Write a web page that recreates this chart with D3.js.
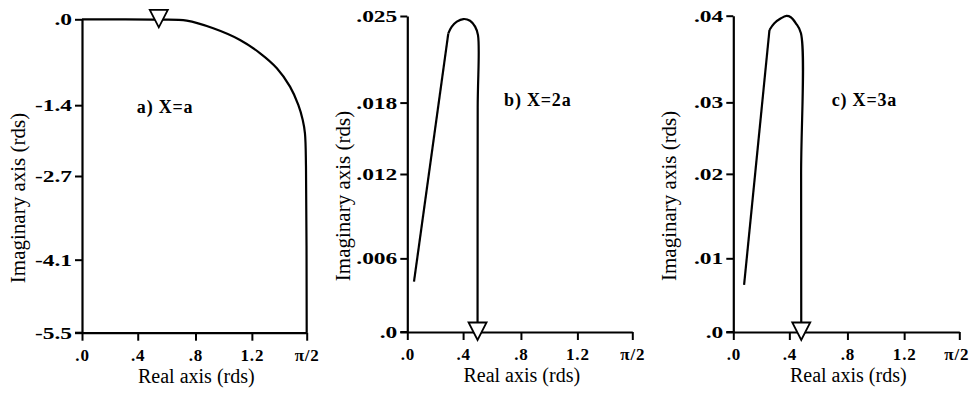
<!DOCTYPE html>
<html>
<head>
<meta charset="utf-8">
<script src="https://cdn.jsdelivr.net/npm/d3@7"></script>
<style>
  html, body { margin: 0; padding: 0; background: #fff; }
  svg { display: block; }
</style>
</head>
<body>
<svg id="chart" width="971" height="396"></svg>
<script>
// ---------------- DATA ----------------
const xTickValues = [0, 0.4, 0.8, 1.2, Math.PI / 2];
const xTickLabels = [".0", ".4", ".8", "1.2", "π/2"];

// panel a) X=a
const yTicksA = [0, -1.375, -2.75, -4.125, -5.5];        // top -> bottom
const yLabelsA = [".0", "-1.4", "-2.7", "-4.1", "-5.5"];
const realA = [0, 0.25, 0.546, 0.739, 0.926, 1.116, 1.256, 1.369, 1.458, 1.514, 1.544, 1.559, 1.566, 1.5708];
const imagA = [0, 0, -0.005, -0.022, -0.144, -0.331, -0.544, -0.783, -1.078, -1.370, -1.662, -1.922, -2.574, -5.5];
const markerA = [0.546, 0];

// panel b) X=2a
const yTicksB = [0.025, 0.01875, 0.0125, 0.00625, 0];
const yLabelsB = [".025", ".018", ".012", ".006", ".0"];
const realB = [0.048, 0.294, 0.319, 0.355, 0.402, 0.448, 0.483, 0.503, 0.501, 0.5];
const imagB = [0.00427, 0.02375, 0.02423, 0.02459, 0.02478, 0.02466, 0.02423, 0.02362, 0.0183, 0];
const markerB = [0.5, 0];

// panel c) X=3a
const yTicksC = [0.04, 0.03, 0.02, 0.01, 0];
const yLabelsC = [".04", ".03", ".02", ".01", ".0"];
const realC = [0.077, 0.258, 0.293, 0.340, 0.379, 0.410, 0.445, 0.480, 0.481, 0.482];
const imagC = [0.00638, 0.03835, 0.03912, 0.0397, 0.03997, 0.03982, 0.03912, 0.03797, 0.02, 0];
const markerC = [0.482, 0];

const panelTitles = ["a) X=a", "b) X=2a", "c) X=3a"];
const xTitle = "Real axis (rds)";
const yTitle = "Imaginary axis (rds)";

// ---------------- LAYOUT ----------------
const frames = [
  { left: 82,    right: 306.7, top: 19.3, bottom: 332.7, note: [0.37, 0.30], straight: 0 },
  { left: 407.3, right: 632.3, top: 16,   bottom: 332,   note: [0.58, 0.285], straight: 1 },
  { left: 733.3, right: 959.3, top: 15.7, bottom: 332,   note: [0.58, 0.285], straight: 1 }
];
const xStops = [0, 0.248, 0.505, 0.756, 1];
const yStops = [0, 0.274, 0.5, 0.767, 1];
const Y_LABEL_STRETCH = 1.38;

const panels = [
  { yTicks: yTicksA, yLabels: yLabelsA, re: realA, im: imagA, marker: markerA },
  { yTicks: yTicksB, yLabels: yLabelsB, re: realB, im: imagB, marker: markerB },
  { yTicks: yTicksC, yLabels: yLabelsC, re: realC, im: imagC, marker: markerC }
];

const FONT = "'Liberation Serif', 'Times New Roman', serif";
const svg = d3.select("#chart").attr("font-family", FONT);

panels.forEach((p, i) => {
  const f = frames[i];
  const x = d3.scaleLinear()
    .domain(xTickValues)
    .range(xStops.map(s => f.left + s * (f.right - f.left)));
  const y = d3.scaleLinear()
    .domain(p.yTicks)
    .range(yStops.map(s => f.top + s * (f.bottom - f.top)));

  const g = svg.append("g");

  const xAxis = d3.axisBottom(x)
    .tickValues(xTickValues)
    .tickFormat((d, k) => xTickLabels[k])
    .tickSize(8).tickSizeOuter(0).tickPadding(8);
  const gx = g.append("g").attr("transform", `translate(0,${f.bottom})`).call(xAxis);

  const yAxis = d3.axisLeft(y)
    .tickValues(p.yTicks)
    .tickFormat((d, k) => p.yLabels[k])
    .tickSize(7).tickSizeOuter(0).tickPadding(3);
  const gy = g.append("g").attr("transform", `translate(${f.left},0)`).call(yAxis);

  [gx, gy].forEach(ax => {
    ax.attr("font-family", FONT);
    ax.select(".domain").attr("stroke", "#000").attr("stroke-width", 2.2);
    ax.selectAll(".tick line").attr("stroke", "#000").attr("stroke-width", 2);
    ax.selectAll(".tick text")
      .attr("font-size", 17)
      .attr("font-weight", "bold")
      .attr("fill", "#000");
  });
  gx.selectAll(".tick text").attr("letter-spacing", 0.8);
  // keep the last label inside the picture
  if (i === 2) gx.selectAll(".tick text").filter((d, k) => k === xTickValues.length - 1).attr("dx", -3);
  // y tick labels are printed wide in the original
  gy.selectAll(".tick text")
    .attr("x", -10 / Y_LABEL_STRETCH)
    .attr("transform", `scale(${Y_LABEL_STRETCH},1)`);

  g.append("line")
    .attr("x1", f.left - 7).attr("x2", f.left)
    .attr("y1", f.bottom).attr("y2", f.bottom)
    .attr("stroke", "#000").attr("stroke-width", 2);

  g.append("text")
    .attr("x", (f.left + f.right) / 2 + 2)
    .attr("y", f.bottom + 50)
    .attr("text-anchor", "middle")
    .attr("font-size", 20)
    .text(xTitle);
  g.append("text")
    .attr("transform", `translate(${f.left - 57},${(f.top + f.bottom) / 2 + 22}) rotate(-90)`)
    .attr("text-anchor", "middle")
    .attr("font-size", 21)
    .text(yTitle);

  const pts = p.re.map((r, k) => [r, p.im[k]]);
  if (f.straight) {
    g.append("path")
      .datum(pts.slice(0, 2))
      .attr("fill", "none").attr("stroke", "#000").attr("stroke-width", 2.2)
      .attr("d", d3.line().x(d => x(d[0])).y(d => y(d[1])));
  }
  g.append("path")
    .datum(f.straight ? pts.slice(1) : pts)
    .attr("fill", "none")
    .attr("stroke", "#000")
    .attr("stroke-width", 2.2)
    .attr("stroke-linejoin", "round")
    .attr("d", d3.line().x(d => x(d[0])).y(d => y(d[1])).curve(d3.curveCatmullRom.alpha(0.5)));

  g.append("path")
    .attr("transform", `translate(${x(p.marker[0])},${y(p.marker[1])})`)
    .attr("d", "M-9,-9.5L9,-9.5L0,8Z")
    .attr("fill", "#fff")
    .attr("stroke", "#000")
    .attr("stroke-width", 1.8);

  g.append("text")
    .attr("x", f.left + f.note[0] * (f.right - f.left))
    .attr("y", f.top + f.note[1] * (f.bottom - f.top))
    .attr("text-anchor", "middle")
    .attr("font-size", 18)
    .attr("font-weight", "bold")
    .attr("letter-spacing", 0.8)
    .text(panelTitles[i]);
});
</script>
</body>
</html>
